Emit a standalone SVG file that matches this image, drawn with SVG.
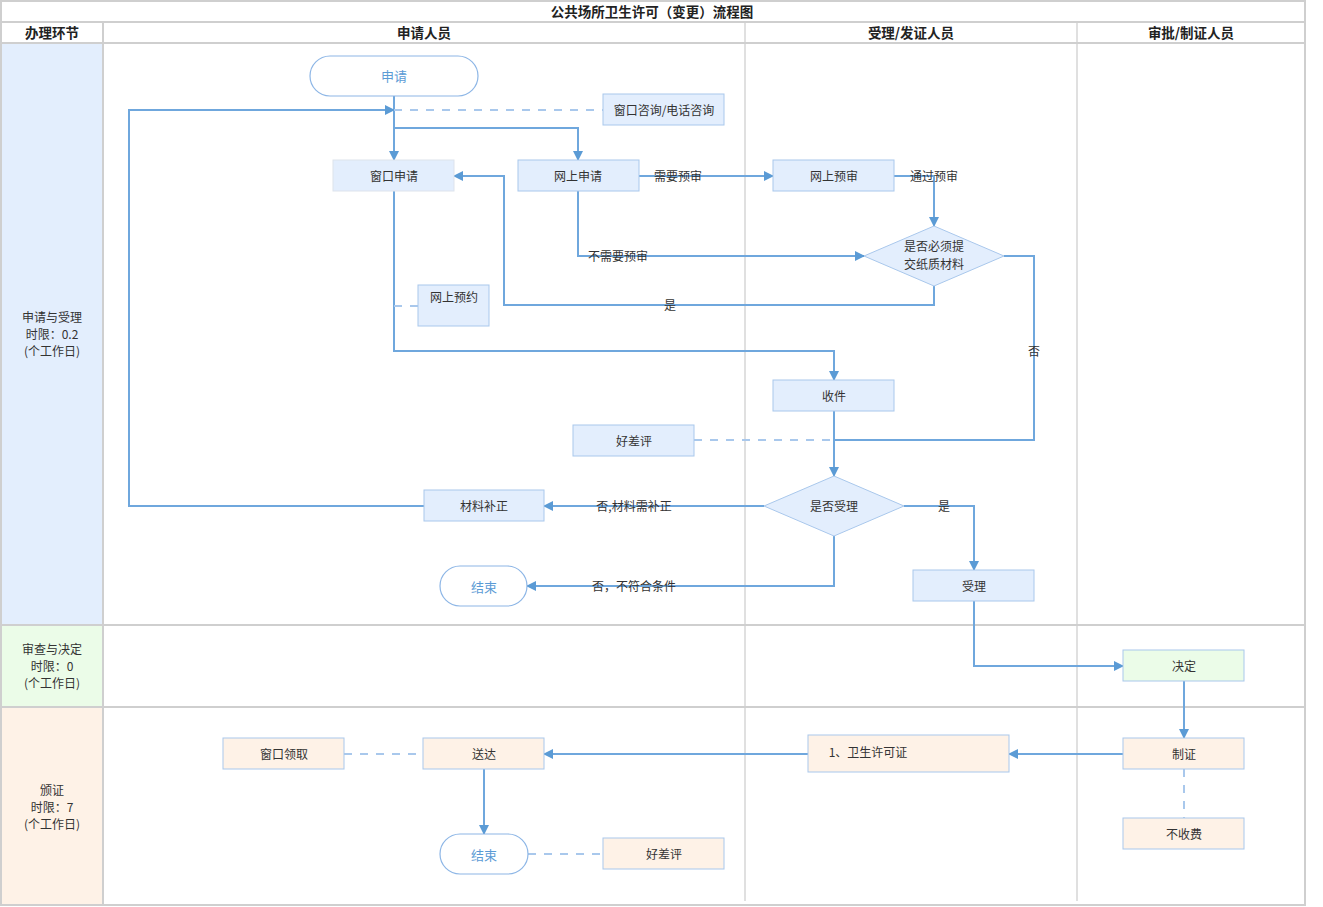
<svg xmlns="http://www.w3.org/2000/svg" width="1323" height="907" viewBox="0 0 1323 907">
<defs>
<style>
text{font-family:"Noto Sans CJK SC","Liberation Sans",sans-serif;font-size:12px;fill:#333;text-anchor:middle;dominant-baseline:central;transform:translateY(-1px)}
.hd{font-size:13.5px;font-weight:bold;fill:#222}
.grid{stroke:#cfcfcf;stroke-width:2;fill:none}
.vl{stroke:#e0e0e0;stroke-width:2;fill:none}
.b{fill:#E3EEFD;stroke:#A9C8EC;stroke-width:1}
.g{fill:#EBFCE8;stroke:#A9C8EC;stroke-width:1}
.o{fill:#FEF2E7;stroke:#A9C8EC;stroke-width:1}
.t{fill:#fff;stroke:#8DB6E6;stroke-width:1.2}
.tt{fill:#5B9BD5;font-size:13px}
.c{fill:none;stroke:#6FA7DD;stroke-width:2}
.d{fill:none;stroke:#A9C8EC;stroke-width:2;stroke-dasharray:8 8}
</style>
<marker id="ar" markerWidth="10" markerHeight="10" refX="9" refY="5" orient="auto" markerUnits="userSpaceOnUse">
<path d="M0,0 L10,5 L0,10 Z" fill="#5B9BD5"/>
</marker>
</defs>
<rect x="0" y="0" width="1323" height="907" fill="#fff"/>
<g id="lanes">
<rect x="2" y="43" width="101" height="582" fill="#E3EEFD"/>
<rect x="2" y="625" width="101" height="82" fill="#EBFCE8"/>
<rect x="2" y="707" width="101" height="198" fill="#FEF2E7"/>
<line class="vl" x1="745" y1="22" x2="745" y2="901"/>
<line class="vl" x1="1077" y1="22" x2="1077" y2="901"/>
<rect class="grid" x="1" y="1" width="1304" height="904"/>
<line class="grid" x1="1" y1="22" x2="1305" y2="22"/>
<line class="grid" x1="1" y1="43" x2="1305" y2="43"/>
<line class="grid" x1="103" y1="22" x2="103" y2="905"/>
<line class="grid" x1="1" y1="625" x2="1305" y2="625"/>
<line class="grid" x1="1" y1="707" x2="1305" y2="707"/>
<text class="hd" x="652" y="12">公共场所卫生许可（变更）流程图</text>
<text class="hd" x="52" y="33">办理环节</text>
<text class="hd" x="424" y="33">申请人员</text>
<text class="hd" x="911" y="33">受理/发证人员</text>
<text class="hd" x="1191" y="33">审批/制证人员</text>
<text x="52" y="317">申请与受理</text>
<text x="52" y="334">时限：0.2</text>
<text x="52" y="351">(个工作日)</text>
<text x="52" y="649">审查与决定</text>
<text x="52" y="666">时限：0</text>
<text x="52" y="683">(个工作日)</text>
<text x="52" y="790">颁证</text>
<text x="52" y="807">时限：7</text>
<text x="52" y="824">(个工作日)</text>
</g>
<g id="connectors">
<path class="c" d="M394,96 V160" marker-end="url(#ar)"/>
<path class="c" d="M394,128 H578 V160" marker-end="url(#ar)"/>
<path class="c" d="M424,506 H129 V110 H394" marker-end="url(#ar)"/>
<path class="d" d="M394,110 H603"/>
<path class="c" d="M639,176 H773" marker-end="url(#ar)"/>
<path class="c" d="M894,176 H934 V226" marker-end="url(#ar)"/>
<path class="c" d="M578,191 V256 H864" marker-end="url(#ar)"/>
<path class="c" d="M934,286 V305 H504 V176 H454" marker-end="url(#ar)"/>
<path class="c" d="M1004,256 H1034 V440 H834"/>
<path class="c" d="M394,191 V351 H834 V380" marker-end="url(#ar)"/>
<path class="d" d="M394,306 H418"/>
<path class="c" d="M834,411 V476" marker-end="url(#ar)"/>
<path class="d" d="M694,440 H834"/>
<path class="c" d="M764,506 H544" marker-end="url(#ar)"/>
<path class="c" d="M834,536 V586 H527" marker-end="url(#ar)"/>
<path class="c" d="M904,506 H974 V570" marker-end="url(#ar)"/>
<path class="c" d="M974,601 V666 H1123" marker-end="url(#ar)"/>
<path class="c" d="M1184,681 V738" marker-end="url(#ar)"/>
<path class="c" d="M1123,754 H1009" marker-end="url(#ar)"/>
<path class="c" d="M808,754 H544" marker-end="url(#ar)"/>
<path class="d" d="M344,754 H423"/>
<path class="c" d="M484,769 V834" marker-end="url(#ar)"/>
<path class="d" d="M528,854 H603"/>
<path class="d" d="M1184,769 V818"/>
<text x="678" y="176">需要预审</text>
<text x="934" y="176">通过预审</text>
<text x="618" y="256">不需要预审</text>
<text x="670" y="305">是</text>
<text x="1034" y="351">否</text>
<text x="634" y="506">否,材料需补正</text>
<text x="634" y="586">否，不符合条件</text>
<text x="944" y="506">是</text>
</g>
<g id="n-shenqing"><rect class="t" x="310" y="56" width="168" height="40" rx="20"/><text class="tt" x="394" y="76">申请</text></g>
<g id="n-zixun"><rect class="b" x="603" y="94" width="121" height="31"/><text x="664" y="110">窗口咨询/电话咨询</text></g>
<g id="n-chuangkou"><rect class="b" x="333" y="160" width="121" height="31" style="stroke:#dde3ec"/><text x="394" y="176">窗口申请</text></g>
<g id="n-wangshang"><rect class="b" x="518" y="160" width="121" height="31"/><text x="578" y="176">网上申请</text></g>
<g id="n-yushen"><rect class="b" x="773" y="160" width="121" height="31"/><text x="834" y="176">网上预审</text></g>
<g id="n-zhizhi"><path class="b" d="M934,226 L1004,256 L934,286 L864,256 Z"/><text x="934" y="246">是否必须提</text><text x="934" y="264">交纸质材料</text></g>
<g id="n-yuyue"><rect class="b" x="418" y="285" width="71" height="41"/><text x="454" y="297">网上预约</text></g>
<g id="n-shoujian"><rect class="b" x="773" y="380" width="121" height="31"/><text x="834" y="396">收件</text></g>
<g id="n-haocha1"><rect class="b" x="573" y="425" width="121" height="31"/><text x="634" y="441">好差评</text></g>
<g id="n-shouli-q"><path class="b" d="M834,476 L904,506 L834,536 L764,506 Z"/><text x="834" y="506">是否受理</text></g>
<g id="n-buzheng"><rect class="b" x="424" y="490" width="120" height="31"/><text x="484" y="506">材料补正</text></g>
<g id="n-end1"><rect class="t" x="440" y="566" width="87" height="40" rx="20"/><text class="tt" x="484" y="587">结束</text></g>
<g id="n-shouli"><rect class="b" x="913" y="570" width="121" height="31"/><text x="974" y="586">受理</text></g>
<g id="n-jueding"><rect class="g" x="1123" y="650" width="121" height="31"/><text x="1184" y="666">决定</text></g>
<g id="n-zhizheng"><rect class="o" x="1123" y="738" width="121" height="31"/><text x="1184" y="754">制证</text></g>
<g id="n-bushoufei"><rect class="o" x="1123" y="818" width="121" height="31"/><text x="1184" y="834">不收费</text></g>
<g id="n-xukezheng"><rect class="o" x="808" y="735" width="201" height="37"/><text x="868" y="752">1、卫生许可证</text></g>
<g id="n-songda"><rect class="o" x="423" y="738" width="121" height="31"/><text x="484" y="754">送达</text></g>
<g id="n-lingqu"><rect class="o" x="223" y="738" width="121" height="31"/><text x="284" y="754">窗口领取</text></g>
<g id="n-end2"><rect class="t" x="440" y="834" width="88" height="40" rx="20"/><text class="tt" x="484" y="855">结束</text></g>
<g id="n-haocha2"><rect class="o" x="603" y="838" width="121" height="31"/><text x="664" y="854">好差评</text></g>
</svg>
